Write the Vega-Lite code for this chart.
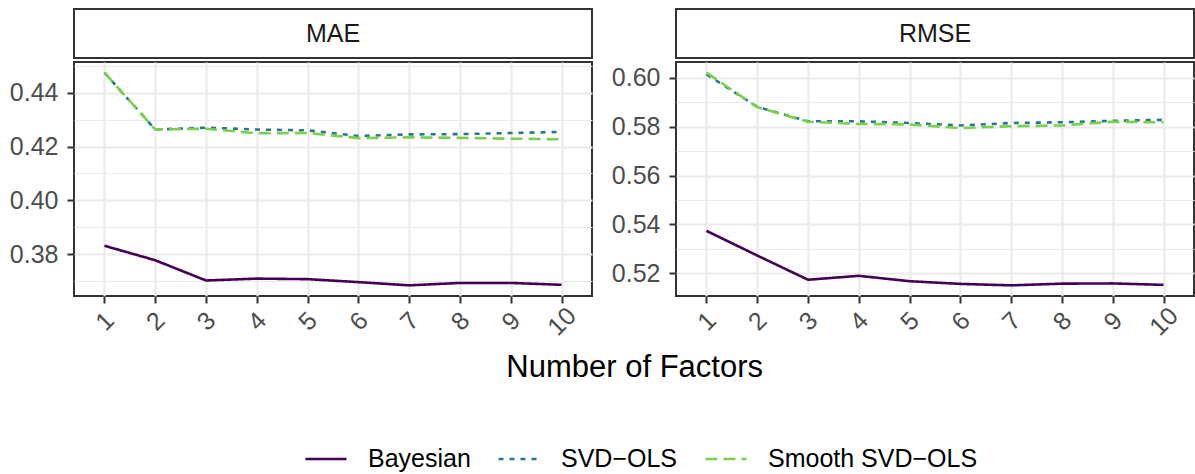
{
  "$schema": "https://vega.github.io/schema/vega-lite/v6.json",
  "padding": {"left": 8, "top": 8, "right": 2, "bottom": 0},
  "background": "white",
  "datasets": {
    "errors": [
      {"metric": "MAE", "method": "Bayesian", "factors": 1, "value": 0.3832},
      {"metric": "MAE", "method": "Bayesian", "factors": 2, "value": 0.3778},
      {"metric": "MAE", "method": "Bayesian", "factors": 3, "value": 0.3703},
      {"metric": "MAE", "method": "Bayesian", "factors": 4, "value": 0.3710},
      {"metric": "MAE", "method": "Bayesian", "factors": 5, "value": 0.3708},
      {"metric": "MAE", "method": "Bayesian", "factors": 6, "value": 0.3697},
      {"metric": "MAE", "method": "Bayesian", "factors": 7, "value": 0.3685},
      {"metric": "MAE", "method": "Bayesian", "factors": 8, "value": 0.3694},
      {"metric": "MAE", "method": "Bayesian", "factors": 9, "value": 0.3694},
      {"metric": "MAE", "method": "Bayesian", "factors": 10, "value": 0.3687},
      {"metric": "MAE", "method": "SVD−OLS", "factors": 1, "value": 0.4474},
      {"metric": "MAE", "method": "SVD−OLS", "factors": 2, "value": 0.4263},
      {"metric": "MAE", "method": "SVD−OLS", "factors": 3, "value": 0.4270},
      {"metric": "MAE", "method": "SVD−OLS", "factors": 4, "value": 0.4263},
      {"metric": "MAE", "method": "SVD−OLS", "factors": 5, "value": 0.4260},
      {"metric": "MAE", "method": "SVD−OLS", "factors": 6, "value": 0.4239},
      {"metric": "MAE", "method": "SVD−OLS", "factors": 7, "value": 0.4245},
      {"metric": "MAE", "method": "SVD−OLS", "factors": 8, "value": 0.4246},
      {"metric": "MAE", "method": "SVD−OLS", "factors": 9, "value": 0.4250},
      {"metric": "MAE", "method": "SVD−OLS", "factors": 10, "value": 0.4254},
      {"metric": "MAE", "method": "Smooth SVD−OLS", "factors": 1, "value": 0.4474},
      {"metric": "MAE", "method": "Smooth SVD−OLS", "factors": 2, "value": 0.4263},
      {"metric": "MAE", "method": "Smooth SVD−OLS", "factors": 3, "value": 0.4266},
      {"metric": "MAE", "method": "Smooth SVD−OLS", "factors": 4, "value": 0.4249},
      {"metric": "MAE", "method": "Smooth SVD−OLS", "factors": 5, "value": 0.4250},
      {"metric": "MAE", "method": "Smooth SVD−OLS", "factors": 6, "value": 0.4231},
      {"metric": "MAE", "method": "Smooth SVD−OLS", "factors": 7, "value": 0.4234},
      {"metric": "MAE", "method": "Smooth SVD−OLS", "factors": 8, "value": 0.4232},
      {"metric": "MAE", "method": "Smooth SVD−OLS", "factors": 9, "value": 0.4229},
      {"metric": "MAE", "method": "Smooth SVD−OLS", "factors": 10, "value": 0.4227},
      {"metric": "RMSE", "method": "Bayesian", "factors": 1, "value": 0.5374},
      {"metric": "RMSE", "method": "Bayesian", "factors": 2, "value": 0.5273},
      {"metric": "RMSE", "method": "Bayesian", "factors": 3, "value": 0.5174},
      {"metric": "RMSE", "method": "Bayesian", "factors": 4, "value": 0.5190},
      {"metric": "RMSE", "method": "Bayesian", "factors": 5, "value": 0.5168},
      {"metric": "RMSE", "method": "Bayesian", "factors": 6, "value": 0.5157},
      {"metric": "RMSE", "method": "Bayesian", "factors": 7, "value": 0.5151},
      {"metric": "RMSE", "method": "Bayesian", "factors": 8, "value": 0.5158},
      {"metric": "RMSE", "method": "Bayesian", "factors": 9, "value": 0.5159},
      {"metric": "RMSE", "method": "Bayesian", "factors": 10, "value": 0.5153},
      {"metric": "RMSE", "method": "SVD−OLS", "factors": 1, "value": 0.6014},
      {"metric": "RMSE", "method": "SVD−OLS", "factors": 2, "value": 0.5881},
      {"metric": "RMSE", "method": "SVD−OLS", "factors": 3, "value": 0.5822},
      {"metric": "RMSE", "method": "SVD−OLS", "factors": 4, "value": 0.5822},
      {"metric": "RMSE", "method": "SVD−OLS", "factors": 5, "value": 0.5815},
      {"metric": "RMSE", "method": "SVD−OLS", "factors": 6, "value": 0.5805},
      {"metric": "RMSE", "method": "SVD−OLS", "factors": 7, "value": 0.5815},
      {"metric": "RMSE", "method": "SVD−OLS", "factors": 8, "value": 0.5818},
      {"metric": "RMSE", "method": "SVD−OLS", "factors": 9, "value": 0.5824},
      {"metric": "RMSE", "method": "SVD−OLS", "factors": 10, "value": 0.5828},
      {"metric": "RMSE", "method": "Smooth SVD−OLS", "factors": 1, "value": 0.6021},
      {"metric": "RMSE", "method": "Smooth SVD−OLS", "factors": 2, "value": 0.5880},
      {"metric": "RMSE", "method": "Smooth SVD−OLS", "factors": 3, "value": 0.5820},
      {"metric": "RMSE", "method": "Smooth SVD−OLS", "factors": 4, "value": 0.5811},
      {"metric": "RMSE", "method": "Smooth SVD−OLS", "factors": 5, "value": 0.5809},
      {"metric": "RMSE", "method": "Smooth SVD−OLS", "factors": 6, "value": 0.5794},
      {"metric": "RMSE", "method": "Smooth SVD−OLS", "factors": 7, "value": 0.5802},
      {"metric": "RMSE", "method": "Smooth SVD−OLS", "factors": 8, "value": 0.5805},
      {"metric": "RMSE", "method": "Smooth SVD−OLS", "factors": 9, "value": 0.5820},
      {"metric": "RMSE", "method": "Smooth SVD−OLS", "factors": 10, "value": 0.5818}
    ]
  },
  "vconcat": [
    {
      "title": {"text": "Number of Factors", "orient": "bottom", "anchor": "middle", "frame": "bounds", "dx": 33, "fontSize": 31, "fontWeight": "normal", "color": "#000000", "offset": 12},
      "spacing": 17,
      "hconcat": [
        {
          "spacing": 2,
          "vconcat": [
            {
              "width": 518, "height": 49,
              "data": {"name": "errors"},
              "transform": [{"filter": "datum.metric === 'MAE'"}, {"aggregate": [{"op": "count", "as": "n"}], "groupby": ["metric"]}],
              "layer": [
                {"mark": {"type": "rect", "fill": "white", "stroke": "#333333", "strokeWidth": 2}, "encoding": {}},
                {"mark": {"type": "text", "fontSize": 25, "color": "#1A1A1A"}, "encoding": {"text": {"field": "metric", "type": "nominal"}}}
              ]
            },
            {
              "width": 518, "height": 234,
              "data": {"name": "errors"},
              "transform": [{"filter": "datum.metric === 'MAE'"}],
              "mark": {"type": "line", "strokeWidth": 2.6},
              "encoding": {
                "x": {"field": "factors", "type": "ordinal", "scale": {"type": "point", "padding": 0.6}, "axis": {"title": null}},
                "y": {"field": "value", "type": "quantitative", "scale": {"domain": [0.36455, 0.45135], "nice": false, "zero": false},
                  "axis": {"title": null, "values": [0.37, 0.38, 0.39, 0.40, 0.41, 0.42, 0.43, 0.44, 0.45],
                    "labelExpr": "round(datum.value*100) % 2 == 0 ? format(datum.value, '.2f') : ''",
                    "tickColor": {"condition": {"test": "round(datum.value*100) % 2 == 0", "value": "#333333"}, "value": "transparent"},
                    "gridWidth": {"condition": {"test": "round(datum.value*100) % 2 == 0", "value": 2.2}, "value": 1.1}}},
                "color": {"field": "method", "type": "nominal", "title": "\u00a0",
                  "scale": {"domain": ["Bayesian", "SVD−OLS", "Smooth SVD−OLS"], "range": ["#440154", "#2A788E", "#7AD151"]}},
                "strokeDash": {"field": "method", "type": "nominal", "title": "\u00a0",
                  "scale": {"domain": ["Bayesian", "SVD−OLS", "Smooth SVD−OLS"], "range": [[1, 0], [5, 6], [12, 6]]}}
              }
            }
          ]
        },
        {
          "spacing": 2,
          "vconcat": [
            {
              "width": 518, "height": 49,
              "data": {"name": "errors"},
              "transform": [{"filter": "datum.metric === 'RMSE'"}, {"aggregate": [{"op": "count", "as": "n"}], "groupby": ["metric"]}],
              "layer": [
                {"mark": {"type": "rect", "fill": "white", "stroke": "#333333", "strokeWidth": 2}, "encoding": {}},
                {"mark": {"type": "text", "fontSize": 25, "color": "#1A1A1A"}, "encoding": {"text": {"field": "metric", "type": "nominal"}}}
              ]
            },
            {
              "width": 518, "height": 234,
              "data": {"name": "errors"},
              "transform": [{"filter": "datum.metric === 'RMSE'"}],
              "mark": {"type": "line", "strokeWidth": 2.6},
              "encoding": {
                "x": {"field": "factors", "type": "ordinal", "scale": {"type": "point", "padding": 0.6}, "axis": {"title": null}},
                "y": {"field": "value", "type": "quantitative", "scale": {"domain": [0.51075, 0.60645], "nice": false, "zero": false},
                  "axis": {"title": null, "values": [0.52, 0.53, 0.54, 0.55, 0.56, 0.57, 0.58, 0.59, 0.60],
                    "labelExpr": "round(datum.value*100) % 2 == 0 ? format(datum.value, '.2f') : ''",
                    "tickColor": {"condition": {"test": "round(datum.value*100) % 2 == 0", "value": "#333333"}, "value": "transparent"},
                    "gridWidth": {"condition": {"test": "round(datum.value*100) % 2 == 0", "value": 2.2}, "value": 1.1}}},
                "color": {"field": "method", "type": "nominal", "title": "\u00a0",
                  "scale": {"domain": ["Bayesian", "SVD−OLS", "Smooth SVD−OLS"], "range": ["#440154", "#2A788E", "#7AD151"]}},
                "strokeDash": {"field": "method", "type": "nominal", "title": "\u00a0",
                  "scale": {"domain": ["Bayesian", "SVD−OLS", "Smooth SVD−OLS"], "range": [[1, 0], [5, 6], [12, 6]]}}
              }
            }
          ]
        }
      ]
    }
  ],
  "config": {
    "font": "Liberation Sans",
    "view": {"stroke": "#333333", "strokeWidth": 2, "fill": "white"},
    "axis": {
      "domain": false,
      "grid": true,
      "gridColor": "#EBEBEB",
      "gridWidth": 2.2,
      "labelFont": "Liberation Sans",
      "labelFontSize": 25,
      "labelColor": "#4D4D4D",
      "tickColor": "#333333",
      "tickWidth": 2,
      "tickSize": 7,
      "labelPadding": 9
    },
    "axisX": {"labelAngle": -45, "labelAlign": "center", "labelBaseline": "middle", "labelPadding": 18},
    "axisY": {"labelBaseline": "middle"},
    "legend": {
      "orient": "bottom",
      "direction": "horizontal",
      "symbolType": "stroke",
      "symbolSize": 1681,
      "symbolStrokeWidth": 2.6,
      "labelFontSize": 25,
      "labelColor": "#000000",
      "labelFont": "Liberation Sans",
      "labelLimit": 400,
      "labelOffset": 20,
      "columnPadding": 22,
      "titleOrient": "left",
      "titlePadding": 79,
      "titleFontSize": 12,
      "offset": 53,
      "layout": {"bottom": {"anchor": "middle"}}
    }
  }
}
